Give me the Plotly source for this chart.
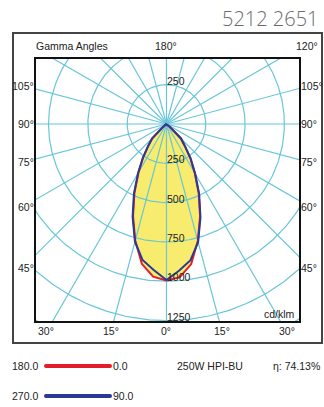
import numpy as np
import plotly.graph_objects as go

# ---------------- data ----------------
gamma = list(range(0, 185, 5))  # gamma angles 0..180
red_c0 = [995, 978, 905, 770, 625, 485, 360, 265, 180, 130, 25, 10, 5, 3, 2, 1] + [0] * 21
red_c180 = [995, 975, 903, 768, 622, 482, 355, 258, 178, 128, 24, 10, 5, 3, 2, 1] + [0] * 21
blue_c90 = [992, 935, 880, 778, 632, 492, 365, 268, 182, 130, 24, 10, 5, 3, 2, 1] + [0] * 21
blue_c270 = [992, 932, 878, 775, 630, 490, 362, 262, 180, 128, 24, 10, 5, 3, 2, 1] + [0] * 21

grid_radii = [250, 500, 750, 1000, 1250, 1500, 1750]
radial_labels_below = [250, 500, 750, 1000, 1250]
radial_labels_above = [250]
spoke_angles = list(range(0, 360, 15))
side_angles = [105, 90, 75, 60, 45]
bottom_angles = [30, 15, 0]

title_text = "5212 2651"
lamp_text = "250W HPI-BU"
eta_text = "η: 74.13%"
legend_red = ("180.0", "0.0")
legend_blue = ("270.0", "90.0")
unit_text = "cd/klm"

# ---------------- geometry ----------------
X0, X1 = -830.0, 843.0
Y0, Y1 = -1253.0, 413.5
W, H = 324, 407
ML, MR, MT, MB = 36, 25, 59, 86
PW, PH = W - ML - MR, H - MT - MB


def px2paper_x(px):
    return (px - ML) / PW


def py2paper_y(py):
    return (MT + PH - py) / PH


def dx2paper(x):
    return (x - X0) / (X1 - X0)


def dy2paper(y):
    return (y - Y0) / (Y1 - Y0)


def curve(right_vals, left_vals):
    g = np.radians(gamma)
    r = np.array(right_vals, float)
    l = np.array(left_vals, float)
    xr = r * np.sin(g)
    yr = -r * np.cos(g)
    xl = -(l * np.sin(g))[::-1]
    yl = (-l * np.cos(g))[::-1]
    return np.concatenate([xr, xl]), np.concatenate([yr, yl])


FONT = "Liberation Sans, Arial, sans-serif"
GRID = "#69C6D8"
YELLOW = "#F8EC6E"
RED = "#E31E2A"
BLUE = "#2A3A94"

fig = go.Figure()

rx, ry = curve(red_c0, red_c180)
bx, by = curve(blue_c90, blue_c270)

# fills
for cx, cy in [(rx, ry), (bx, by)]:
    fig.add_trace(go.Scatter(x=cx, y=cy, mode="lines", fill="toself",
                             fillcolor=YELLOW, line=dict(width=0),
                             hoverinfo="skip"))

# grid circles and spokes
gx, gy = [], []
t = np.linspace(0, 2 * np.pi, 361)
for r in grid_radii:
    gx += list(r * np.sin(t)) + [None]
    gy += list(r * np.cos(t)) + [None]
for a in spoke_angles:
    ar = np.radians(a)
    gx += [0, 3000 * np.sin(ar), None]
    gy += [0, -3000 * np.cos(ar), None]
fig.add_trace(go.Scatter(x=gx, y=gy, mode="lines",
                         line=dict(color=GRID, width=1.2), hoverinfo="skip"))

fig.add_trace(go.Scatter(x=rx, y=ry, mode="lines",
                         line=dict(color=RED, width=2), hoverinfo="skip"))
fig.add_trace(go.Scatter(x=bx, y=by, mode="lines",
                         line=dict(color=BLUE, width=2), hoverinfo="skip"))

ann = []
txtc = "#222222"
fs = 10.5

# radial value labels
for r in radial_labels_below:
    ann.append(dict(x=0, y=-r, xref="x", yref="y", text=str(r), showarrow=False,
                    xanchor="left", yanchor="middle", xshift=-1, yshift=4,
                    font=dict(size=fs, color=txtc, family=FONT)))
for r in radial_labels_above:
    ann.append(dict(x=0, y=r, xref="x", yref="y", text=str(r), showarrow=False,
                    xanchor="left", yanchor="middle", xshift=-1, yshift=4,
                    font=dict(size=fs, color=txtc, family=FONT)))

# side angle labels
side_x = 143.5 / 0.1572
for a in side_angles:
    yd = -side_x / np.tan(np.radians(a)) if a != 90 else 0.0
    yp = dy2paper(yd)
    ann.append(dict(x=px2paper_x(35.5), y=yp, xref="paper", yref="paper",
                    text=f"{a}°", showarrow=False, xanchor="right", yanchor="middle",
                    font=dict(size=fs, color=txtc, family=FONT)))
    ann.append(dict(x=px2paper_x(299), y=yp, xref="paper", yref="paper",
                    text=f"{a}°", showarrow=False, xanchor="left", yanchor="middle",
                    font=dict(size=fs, color=txtc, family=FONT)))

# bottom angle labels
bottom_y = 208 / 0.1572
for a in bottom_angles:
    xd = bottom_y * np.tan(np.radians(a))
    for s in ([1, -1] if a != 0 else [1]):
        ann.append(dict(x=dx2paper(s * xd), y=py2paper_y(331), xref="paper", yref="paper",
                        text=f"{a}°", showarrow=False, xanchor="center", yanchor="middle",
                        font=dict(size=fs, color=txtc, family=FONT)))

# top row
ann.append(dict(x=px2paper_x(34), y=py2paper_y(46), xref="paper", yref="paper",
                text="Gamma Angles", showarrow=False, xanchor="left", yanchor="middle",
                font=dict(size=fs, color=txtc, family=FONT)))
ann.append(dict(x=dx2paper(0), y=py2paper_y(46), xref="paper", yref="paper",
                text="180°", showarrow=False, xanchor="center", yanchor="middle",
                font=dict(size=fs, color=txtc, family=FONT)))
ann.append(dict(x=px2paper_x(306.5), y=py2paper_y(46), xref="paper", yref="paper",
                text="120°", showarrow=False, xanchor="center", yanchor="middle",
                font=dict(size=fs, color=txtc, family=FONT)))

# unit
ann.append(dict(x=px2paper_x(297), y=py2paper_y(314), xref="paper", yref="paper",
                text=unit_text, showarrow=False, xanchor="right", yanchor="middle",
                font=dict(size=fs, color=txtc, family=FONT)))

# title
ann.append(dict(x=px2paper_x(321), y=py2paper_y(18), xref="paper", yref="paper",
                text=title_text, showarrow=False, xanchor="right", yanchor="middle",
                font=dict(size=20, color="#6a6a6a", family="Open Sans, sans-serif", weight=300)))

# legend rows
shapes = []
for (lt, rt), col, yy in [(legend_red, RED, 366), (legend_blue, BLUE, 396)]:
    ann.append(dict(x=px2paper_x(40), y=py2paper_y(yy), xref="paper", yref="paper",
                    text=lt, showarrow=False, xanchor="right", yanchor="middle",
                    font=dict(size=fs, color=txtc, family=FONT)))
    ann.append(dict(x=px2paper_x(111), y=py2paper_y(yy), xref="paper", yref="paper",
                    text=rt, showarrow=False, xanchor="left", yanchor="middle",
                    font=dict(size=fs, color=txtc, family=FONT)))
    shapes.append(dict(type="line", xref="paper", yref="paper",
                       x0=px2paper_x(46), x1=px2paper_x(110),
                       y0=py2paper_y(yy), y1=py2paper_y(yy),
                       line=dict(color=col, width=4)))
    for cxp in (46, 110):
        shapes.append(dict(type="circle", xref="paper", yref="paper",
                           x0=px2paper_x(cxp - 2), x1=px2paper_x(cxp + 2),
                           y0=py2paper_y(yy + 2), y1=py2paper_y(yy - 2),
                           fillcolor=col, line=dict(width=0)))

ann.append(dict(x=px2paper_x(209.5), y=py2paper_y(366), xref="paper", yref="paper",
                text=lamp_text, showarrow=False, xanchor="center", yanchor="middle",
                font=dict(size=fs, color=txtc, family=FONT)))
ann.append(dict(x=px2paper_x(271), y=py2paper_y(366), xref="paper", yref="paper",
                text=eta_text, showarrow=False, xanchor="left", yanchor="middle",
                font=dict(size=fs, color=txtc, family=FONT)))

# outer frame
shapes.append(dict(type="rect", xref="paper", yref="paper",
                   x0=px2paper_x(13), x1=px2paper_x(322),
                   y0=py2paper_y(343), y1=py2paper_y(33),
                   line=dict(color="#444444", width=2)))

axis_common = dict(showgrid=False, zeroline=False, showticklabels=False, ticks="",
                   showline=True, mirror=True, linecolor="#111111", linewidth=1.5,
                   fixedrange=True)
fig.update_layout(
    width=W, height=H,
    margin=dict(l=ML, r=MR, t=MT, b=MB, pad=0),
    paper_bgcolor="white", plot_bgcolor="white",
    showlegend=False,
    xaxis=dict(range=[X0, X1], **axis_common),
    yaxis=dict(range=[Y0, Y1], **axis_common),
    annotations=ann, shapes=shapes,
    font=dict(family=FONT, size=fs, color=txtc),
)

fig.write_html("out.html", config={"displayModeBar": False},
               post_script="document.body.style.margin='0';document.body.style.overflow='hidden';")
